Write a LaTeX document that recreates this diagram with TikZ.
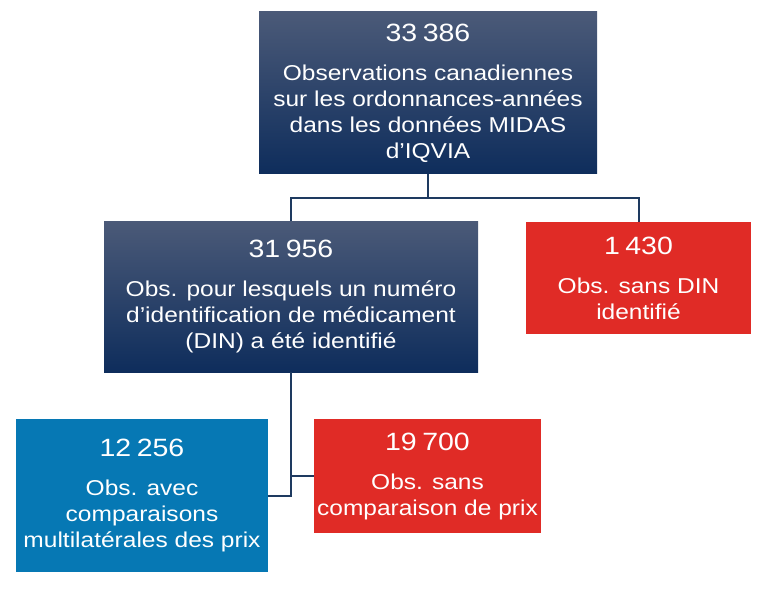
\documentclass[tikz,border=0pt]{standalone}
\usepackage{fontspec}
\setmainfont[FakeStretch=1.14]{Liberation Sans}
\definecolor{navytop}{HTML}{4B5A78}
\definecolor{navybot}{HTML}{0E2D5C}
\definecolor{boxred}{HTML}{E02B26}
\definecolor{boxblue}{HTML}{0678B4}
\definecolor{linecol}{HTML}{1E3A60}
\newcommand{\bignum}[2]{{\fontsize{25}{26}\selectfont #1\hspace{0.22em}#2}\\[13pt]}
\tikzset{
  box/.style={rectangle, inner sep=0pt, text=white, align=center,
    font=\fontsize{21.5}{26}\selectfont},
  navybox/.style={box, top color=navytop, bottom color=navybot},
  redbox/.style={box, fill=boxred},
  bluebox/.style={box, fill=boxblue},
  conn/.style={draw=linecol, line width=2pt}
}
\begin{document}
\begin{tikzpicture}[x=1pt,y=-1pt]
\useasboundingbox (0,0) rectangle (758,591);
\node[navybox, minimum width=338pt, minimum height=162pt] (top) at (428,93)
  {\bignum{33}{386}Observations canadiennes\\sur les ordonnances-années\\dans les données MIDAS\\d’IQVIA};
\node[navybox, minimum width=374pt, minimum height=151pt] (mid) at (291,296.5)
  {\bignum{31}{956}Obs. pour lesquels un numéro\\d’identification de médicament\\(DIN) a été identifié};
\node[redbox, minimum width=225pt, minimum height=112pt] (nodin) at (638.5,278)
  {\bignum{1}{430}Obs. sans DIN\\identifié};
\node[bluebox, minimum width=252pt, minimum height=153pt] (multi) at (142,495.5)
  {\bignum{12}{256}Obs. avec\\comparaisons\\multilatérales des prix};
\node[redbox, minimum width=227pt, minimum height=114pt] (nocomp) at (427.5,476)
  {\bignum{19}{700}Obs. sans\\comparaison de prix};
\coordinate (j1) at (428,198);
\draw[conn] (top.south) -- (j1);
\draw[conn] (mid.north) |- (j1) -| (nodin.north);
\draw[conn] (mid.south) |- (multi.east);
\draw[conn] (nocomp.west) -- (nocomp.west -| mid.south);
\end{tikzpicture}
\end{document}
